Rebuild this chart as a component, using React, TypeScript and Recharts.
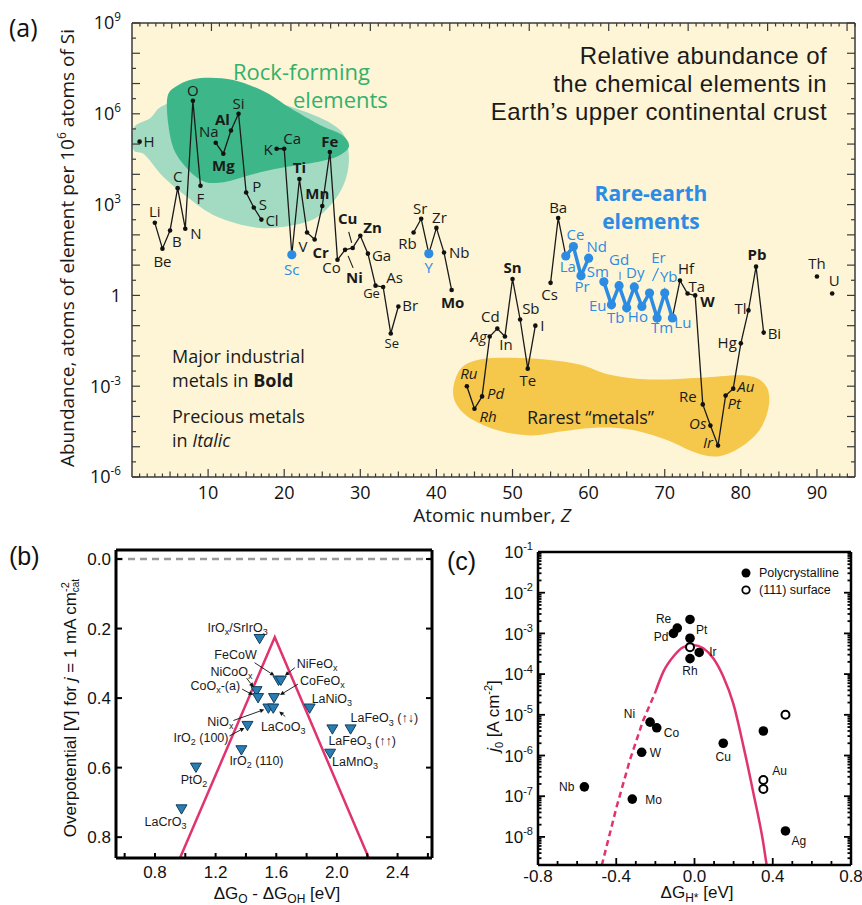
import React from "react";
import {
  ComposedChart,
  Line,
  Scatter,
  XAxis,
  YAxis,
  ReferenceArea,
  ReferenceLine,
} from "recharts";

// ---------- (a) abundance of elements, atoms per 10^6 atoms of Si ----------
const ELEMENT_SYMBOLS = [
  "H", "Li", "Be", "B", "C", "N", "O", "F", "Na", "Mg", "Al", "Si", "P", "S", "Cl",
  "K", "Ca", "Sc", "Ti", "V", "Cr", "Mn", "Fe", "Co", "Ni", "Cu", "Zn", "Ga", "Ge", "As", "Se", "Br",
  "Rb", "Sr", "Y", "Zr", "Nb", "Mo", "Ru", "Rh", "Pd", "Ag", "Cd", "In", "Sn", "Sb", "Te", "I",
  "Cs", "Ba", "La", "Ce", "Pr", "Nd", "Sm", "Eu", "Gd", "Tb", "Dy", "Ho", "Er", "Tm", "Yb", "Lu",
  "Hf", "Ta", "W", "Re", "Os", "Ir", "Pt", "Au", "Hg", "Tl", "Pb", "Bi", "Th", "U",
];
const ATOMIC_NUMBERS = [
  1, 3, 4, 5, 6, 7, 8, 9, 11, 12, 13, 14, 15, 16, 17,
  19, 20, 21, 22, 23, 24, 25, 26, 27, 28, 29, 30, 31, 32, 33, 34, 35,
  37, 38, 39, 40, 41, 42, 44, 45, 46, 47, 48, 49, 50, 51, 52, 53,
  55, 56, 57, 58, 59, 60, 62, 63, 64, 65, 66, 67, 68, 69, 70, 71,
  72, 73, 74, 75, 76, 77, 78, 79, 80, 81, 82, 83, 90, 92,
];
const ABUNDANCE = [
  1.2e5, 250, 35, 140, 3500, 160, 2.7e6, 4200, 1.1e5, 4.8e4, 2.8e5, 1e6, 2500, 800, 320,
  7e4, 7e4, 22, 7000, 120, 70, 900, 5.5e4, 15, 32, 37, 93, 24, 2.1, 1.9, 0.055, 0.43,
  120, 340, 24, 170, 26, 1.5, 1e-3, 1.8e-4, 4.6e-4, 0.044, 0.08, 0.044, 3.5, 0.16, 3.8e-3, 0.1,
  2.6, 360, 20, 41, 4.5, 17, 2.8, 0.49, 2.1, 0.39, 1.9, 0.43, 1.2, 0.18, 1.2, 0.18,
  3.1, 1.15, 1.0, 2.5e-4, 5e-5, 1.1e-5, 4.9e-4, 8.3e-4, 0.026, 0.32, 8.9, 0.059, 4.2, 1.15,
];
const RARE_EARTH_Z = [57, 71];

// region outlines, (Z, log10 abundance)
const LIGHT_GREEN_OUTLINE: [number, number][] = [
  [0.2, 5.53], [2.4, 5.86], [4.7, 6.33], [12.9, 6.72], [22.1, 6.13], [27.3, 5.47], [28.5, 4.58],
  [27.7, 3.59], [25.1, 2.73], [22.1, 2.37], [16.8, 2.23], [11.2, 2.6], [7.2, 3.26], [4.1, 3.92],
  [1.7, 4.64], [0.2, 4.81],
];
const DARK_GREEN_OUTLINE: [number, number][] = [
  [4.6, 6.46], [6.1, 6.95], [9.0, 7.18], [13.3, 7.12], [17.5, 6.72], [20.8, 6.19], [24.7, 5.63],
  [27.6, 5.3], [28.5, 4.91], [26.9, 4.58], [23.8, 4.38], [19.5, 4.21], [15.5, 3.98], [12.2, 3.75],
  [9.6, 3.75], [7.4, 4.15], [5.3, 4.97],
];
const YELLOW_OUTLINE: [number, number][] = [
  [42.2, -3.28], [43.1, -2.45], [45.7, -2.12], [49.7, -2.06], [54.3, -2.12], [58.9, -2.29],
  [62.8, -2.62], [68.1, -2.78], [74.7, -2.72], [80.6, -2.65], [83.2, -2.95], [83.7, -3.61],
  [82.5, -4.43], [79.9, -5.03], [77.0, -5.32], [74.0, -5.19], [70.1, -4.76], [65.4, -4.43],
  [60.9, -4.37], [56.3, -4.5], [52.3, -4.63], [47.7, -4.43], [43.8, -3.94],
];

// ---------- (b) OER volcano ----------
const OER_NAMES = [
  "IrO_x/SrIrO_3", "FeCoW", "NiFeO_x", "NiCoO_x", "CoO_x-(a)", "CoFeO_x", "NiO_x", "LaCoO_3",
  "IrO_2 (100)", "IrO_2 (110)", "PtO_2", "LaCrO_3", "LaNiO_3", "LaFeO_3 (↑↓)", "LaFeO_3 (↑↑)", "LaMnO_3",
];
const OER_DG = [1.49, 1.615, 1.63, 1.47, 1.48, 1.585, 1.548, 1.58, 1.41, 1.37, 1.07, 0.975, 1.82, 2.09, 1.97, 1.955];
const OER_ETA = [0.23, 0.35, 0.35, 0.38, 0.4, 0.4, 0.43, 0.43, 0.48, 0.55, 0.6, 0.72, 0.43, 0.49, 0.49, 0.56];
const VOLCANO_DG = [0.965, 1.59, 2.21];
const VOLCANO_ETA = [0.86, 0.225, 0.86];

// ---------- (c) HER volcano ----------
const HER_POLY_LABELS = ["Re", "Pd", "Pt", "", "Rh", "Ir", "Ni", "Co", "W", "Mo", "Nb", "Cu", "", "Ag"];
const HER_POLY_DG = [-0.088, -0.108, -0.023, -0.023, -0.023, 0.024, -0.227, -0.193, -0.27, -0.318, -0.563, 0.147, 0.352, 0.465];
const HER_POLY_J0 = [1.35e-3, 1.0e-3, 2.2e-3, 7.6e-4, 2.4e-4, 3.4e-4, 6.6e-6, 4.8e-6, 1.2e-6, 8.5e-8, 1.7e-7, 2.0e-6, 4.0e-6, 1.4e-8];
const HER_111_LABELS = ["", "Au", "", ""];
const HER_111_DG = [-0.023, 0.352, 0.352, 0.465];
const HER_111_J0 = [4.6e-4, 2.5e-7, 1.5e-7, 1.0e-5];
const HER_DASHED_DG = [-0.474, -0.398, -0.33, -0.262, -0.202];
const HER_DASHED_J0 = [2.0e-9, 5.5e-8, 7.8e-7, 7.4e-6, 3.4e-5];
const HER_SOLID_DG = [-0.202, -0.159, -0.108, -0.057, -0.006, 0.045, 0.096, 0.147, 0.198, 0.25, 0.301, 0.352, 0.369];
const HER_SOLID_J0 = [3.4e-5, 1.15e-4, 2.7e-4, 4.6e-4, 5.2e-4, 4.3e-4, 2.45e-4, 8.7e-5, 1.9e-5, 1.7e-6, 1.2e-7, 6.9e-9, 2.0e-9];

// ---------- tick values ----------
const A_X_TICKS = Array.from({ length: 94 }, (_, i) => i + 1);
const A_Y_TICKS = Array.from({ length: 31 }, (_, i) => Math.pow(10, -6 + i / 2));
const B_X_TICKS = Array.from({ length: 11 }, (_, i) => Math.round((0.6 + i * 0.2) * 10) / 10);
const B_Y_TICKS = [0, 0.2, 0.4, 0.6, 0.8];
const C_X_TICKS = Array.from({ length: 17 }, (_, i) => Math.round((-0.8 + i * 0.1) * 10) / 10);
const C_Y_MIN = Math.pow(10, -8.69);
const C_Y_TICKS: number[] = [];
for (let e = -9; e <= -2; e++) {
  for (let m = 1; m <= 9; m++) {
    const v = m * Math.pow(10, e);
    if (v >= C_Y_MIN && v <= 0.1) C_Y_TICKS.push(v);
  }
}
C_Y_TICKS.push(0.1);

// ---------- styles ----------
const CREAM = "#FDF5D6";
const LIGHT_GREEN = "#A3DBC2";
const DARK_GREEN = "#3DB789";
const YELLOW = "#F5C74B";
const GREEN_TEXT = "#34B06A";
const BLUE = "#2C8BE3";
const PINK = "#E0346F";
const A_FONT = '"Open Sans", "Liberation Sans", sans-serif';
const BC_FONT = '"Liberation Sans", Arial, sans-serif';

const BOLD = new Set(["Mg", "Al", "Ti", "Cr", "Mn", "Fe", "Ni", "Cu", "Zn", "Sn", "Mo", "W", "Pb"]);
const ITALIC = new Set(["Ru", "Rh", "Pd", "Ag", "Os", "Ir", "Pt", "Au"]);
const SMALL = new Set(["Ge", "Se"]);

type Anchor = "start" | "middle" | "end";
const A_LABEL: Record<string, [Anchor, number, number]> = {
  H: ["start", 4, 5], Li: ["middle", 0, -6], Be: ["middle", 0, 18], B: ["start", 2, 17],
  C: ["middle", 0, -6], N: ["start", 5, 10], O: ["middle", 0, -5], F: ["middle", 0, 18],
  Na: ["middle", -7, -6], Mg: ["middle", 0, 17], Al: ["end", -1, -6], Si: ["middle", 0, -5],
  P: ["start", 6, -1], S: ["start", 5, 2], Cl: ["start", 4, 6], K: ["end", -4, 6],
  Ca: ["start", -1, -5], Sc: ["middle", 0, 20], Ti: ["middle", 0, -6], V: ["middle", -4, 20],
  Cr: ["middle", 6, 18], Mn: ["middle", -5, -7], Fe: ["middle", 0, -5], Co: ["middle", -6, 13],
  Ni: ["start", 1, 33], Cu: ["middle", -5, -24], Zn: ["start", 3, -3], Ga: ["start", 4, 7],
  Ge: ["middle", -4, 12], As: ["start", 3, -4], Se: ["middle", 1, 14], Br: ["start", 4, 5],
  Rb: ["middle", -6, 17], Sr: ["middle", -1, -5], Y: ["middle", 0, 19], Zr: ["middle", 3, -5],
  Nb: ["start", 5, 5], Mo: ["middle", 1, 18], Ru: ["middle", 2, -7], Rh: ["start", 5, 13],
  Pd: ["start", 5, 3], Ag: ["end", -3, 6], Cd: ["middle", -7, -7], In: ["middle", 1, 14],
  Sn: ["middle", 0, -6], Sb: ["start", 2, -5], Te: ["middle", 0, 17], I: ["start", 5, 5],
  Cs: ["middle", -1, 17], Ba: ["middle", 0, -5], La: ["middle", 2, 16], Ce: ["middle", 2, -7],
  Pr: ["middle", 1, 16], Nd: ["middle", 8, -6], Sm: ["middle", -6, -5], Eu: ["end", -5, 6],
  Gd: ["middle", 0, -21], Tb: ["middle", -11, 15], Dy: ["middle", 1, -9], Ho: ["middle", -4, 16],
  Er: ["middle", 9, -30], Tm: ["middle", 5, 15], Yb: ["middle", 4, -11], Lu: ["start", 2, 10],
  Hf: ["middle", 6, -7], Ta: ["start", 1, -2], W: ["start", 5, 12], Re: ["end", -6, -2],
  Os: ["end", -4, 3], Ir: ["end", -5, 3], Pt: ["start", 2, 13], Au: ["start", 4, 3],
  Hg: ["end", -4, 5], Tl: ["end", -2, 4], Pb: ["middle", 1, -7], Bi: ["start", 4, 6],
  Th: ["middle", 0, -8], U: ["middle", 2, -8],
};
const A_LEADERS: Record<string, [number, number, number, number]> = {
  Cu: [-4, -16, -1, -5],
  Ni: [3, 6, 8, 18],
  Gd: [1, -14, 1, -6],
  Er: [9, -25, 3, -12],
};

const B_LABEL: Record<string, [Anchor, number, number]> = {
  "IrO_x/SrIrO_3": ["middle", -22, -7], FeCoW: ["middle", -43, -22], NiFeO_x: ["start", 16, -13],
  NiCoO_x: ["end", -4, -15], "CoO_x-(a)": ["end", -18, -8], CoFeO_x: ["start", 26, -13],
  NiO_x: ["end", -35, 17], LaCoO_3: ["middle", 10, 22], "IrO_2 (100)": ["end", -19, 16],
  "IrO_2 (110)": ["start", -12, 15], PtO_2: ["middle", -2, 16], LaCrO_3: ["middle", -16, 17],
  LaNiO_3: ["start", 2, -6], "LaFeO_3 (↑↓)": ["start", 0, -7], "LaFeO_3 (↑↑)": ["start", -4, 16],
  LaMnO_3: ["start", 2, 12],
};
const B_ARROWS: Record<string, [number, number, number, number]> = {
  FeCoW: [-24, -18, -4, -5], NiFeO_x: [14, -13, 4, -5], NiCoO_x: [-10, -13, -3, -4],
  "CoO_x-(a)": [-16, -9, -5, -3], CoFeO_x: [24, -14, 6, -3], NiO_x: [-35, 12, -4, 1],
  LaCoO_3: [12, 8, 6, 3], "IrO_2 (100)": [-18, 10, -3, 2],
};
const C_LABEL: Record<string, [Anchor, number, number]> = {
  Re: ["end", -6, -5], Pd: ["end", -5, 8], Pt: ["start", 6, 15], Rh: ["middle", 0, 16],
  Ir: ["start", 10, 4], Ni: ["end", -15, -4], Co: ["start", 7, 9], W: ["start", 8, 5],
  Mo: ["start", 13, 5], Nb: ["end", -10, 4], Cu: ["middle", 0, 18], Ag: ["start", 6, 14],
  Au: ["start", 9, -5],
};

// ---------- data tables ----------
const abundanceRows = Array.from({ length: 92 }, (_, i) => {
  const z = i + 1;
  const k = ATOMIC_NUMBERS.indexOf(z);
  const v = k >= 0 ? ABUNDANCE[k] : null;
  return { z, abundance: v, ree: z >= RARE_EARTH_Z[0] && z <= RARE_EARTH_Z[1] ? v : null };
});
const elementPoints = ATOMIC_NUMBERS.map((z, k) => ({ z, abundance: ABUNDANCE[k], symbol: ELEMENT_SYMBOLS[k] }));
const blueSet = new Set(
  ["Sc", "Y"].concat(ELEMENT_SYMBOLS.filter((_, k) => ATOMIC_NUMBERS[k] >= RARE_EARTH_Z[0] && ATOMIC_NUMBERS[k] <= RARE_EARTH_Z[1]))
);
const oerPoints = OER_NAMES.map((name, k) => ({ name, dg: OER_DG[k], eta: OER_ETA[k] }));
const volcanoB = VOLCANO_DG.map((dg, k) => ({ dg, eta: VOLCANO_ETA[k] }));
const herPoly = HER_POLY_DG.map((dg, k) => ({ dg, j0: HER_POLY_J0[k], label: HER_POLY_LABELS[k] }));
const her111 = HER_111_DG.map((dg, k) => ({ dg, j0: HER_111_J0[k], label: HER_111_LABELS[k] }));
const herDashed = HER_DASHED_DG.map((dg, k) => ({ dg, j0: HER_DASHED_J0[k] }));
const herSolid = HER_SOLID_DG.map((dg, k) => ({ dg, j0: HER_SOLID_J0[k] }));

// ---------- helpers ----------
type Side = "bottom" | "top" | "left" | "right";
function axisTick(
  side: Side,
  len: (v: number) => number,
  label?: (v: number) => React.ReactNode,
  opt: { gap?: number; fs?: number; stroke?: string; sw?: number } = {}
) {
  const { gap = 20, fs = 16, stroke = "#000", sw = 1.2 } = opt;
  return (props: any) => {
    const { x, y, payload } = props;
    const v = payload.value as number;
    const s = len(v);
    const lab = label ? label(v) : null;
    let ln: React.ReactNode = null;
    let tx: React.ReactNode = null;
    if (side === "bottom") {
      ln = <line x1={x} x2={x} y1={y} y2={y - s} stroke={stroke} strokeWidth={sw} />;
      if (lab != null) tx = <text x={x} y={y + gap} textAnchor="middle" fontSize={fs} fill="#111">{lab}</text>;
    } else if (side === "top") {
      ln = <line x1={x} x2={x} y1={y} y2={y + s} stroke={stroke} strokeWidth={sw} />;
    } else if (side === "left") {
      ln = <line x1={x} x2={x + s} y1={y} y2={y} stroke={stroke} strokeWidth={sw} />;
      if (lab != null) tx = <text x={x - gap} y={y + fs * 0.36} textAnchor="end" fontSize={fs} fill="#111">{lab}</text>;
    } else {
      ln = <line x1={x} x2={x - s} y1={y} y2={y} stroke={stroke} strokeWidth={sw} />;
    }
    return <g>{ln}{tx}</g>;
  };
}

const pow10 = (e: number, fs: number) =>
  e === 0 ? "1" : (
    <>
      10<tspan dy={-fs * 0.45} fontSize={fs * 0.65}>{e}</tspan>
    </>
  );

const isDecade = (v: number) => Math.abs(Math.log10(v) - Math.round(Math.log10(v))) < 1e-6;

function closedSpline(pts: [number, number][]) {
  const n = pts.length;
  let d = `M${pts[0][0].toFixed(1)},${pts[0][1].toFixed(1)}`;
  for (let i = 0; i < n; i++) {
    const p0 = pts[(i - 1 + n) % n], p1 = pts[i], p2 = pts[(i + 1) % n], p3 = pts[(i + 2) % n];
    const c1x = p1[0] + (p2[0] - p0[0]) / 6, c1y = p1[1] + (p2[1] - p0[1]) / 6;
    const c2x = p2[0] - (p3[0] - p1[0]) / 6, c2y = p2[1] - (p3[1] - p1[1]) / 6;
    d += ` C${c1x.toFixed(1)},${c1y.toFixed(1)} ${c2x.toFixed(1)},${c2y.toFixed(1)} ${p2[0].toFixed(1)},${p2[1].toFixed(1)}`;
  }
  return d + "Z";
}

function blobArea(outline: [number, number][], fill: string, key: string) {
  const zs = outline.map((p) => p[0]);
  const ls = outline.map((p) => p[1]);
  const z0 = Math.min(...zs), z1 = Math.max(...zs), l0 = Math.min(...ls), l1 = Math.max(...ls);
  return (
    <ReferenceArea
      key={key}
      xAxisId="b"
      yAxisId="l"
      x1={z0}
      x2={z1}
      y1={Math.pow(10, l0)}
      y2={Math.pow(10, l1)}
      ifOverflow="visible"
      shape={(p: any) => {
        const pts = outline.map(
          ([z, l]) => [p.x + ((z - z0) / (z1 - z0)) * p.width, p.y + ((l1 - l) / (l1 - l0)) * p.height] as [number, number]
        );
        return <path d={closedSpline(pts)} fill={fill} stroke="none" />;
      }}
    />
  );
}

function arrow(x1: number, y1: number, x2: number, y2: number) {
  const a = Math.atan2(y2 - y1, x2 - x1);
  const h = 4.5, w = 2.2;
  const bx = x2 - h * Math.cos(a), by = y2 - h * Math.sin(a);
  const px = -Math.sin(a) * w, py = Math.cos(a) * w;
  return (
    <g>
      <line x1={x1} y1={y1} x2={bx} y2={by} stroke="#111" strokeWidth={0.9} />
      <path d={`M${x2},${y2}L${bx + px},${by + py}L${bx - px},${by - py}Z`} fill="#111" />
    </g>
  );
}

function chemText(s: string, fs: number) {
  const out: React.ReactNode[] = [];
  let buf = "";
  let k = 0;
  let shifted = false;
  const flush = () => {
    if (buf) {
      out.push(<tspan key={k++} dy={shifted ? -fs * 0.25 : undefined}>{buf}</tspan>);
      buf = "";
      shifted = false;
    }
  };
  for (let i = 0; i < s.length; i++) {
    if (s[i] === "_" && i + 1 < s.length) {
      flush();
      out.push(<tspan key={k++} dy={fs * 0.25} fontSize={fs * 0.72}>{s[i + 1]}</tspan>);
      shifted = true;
      i++;
    } else buf += s[i];
  }
  flush();
  return out;
}

// ---------- marks ----------
const ElementMark = (props: any) => {
  const { cx, cy, payload } = props;
  if (cx == null || cy == null || !payload) return <g />;
  const sym = payload.symbol as string;
  const blue = blueSet.has(sym);
  const [anchor, dx, dy] = A_LABEL[sym] ?? ["middle", 0, -6];
  const lead = A_LEADERS[sym];
  const col = blue ? BLUE : "#1a1a1a";
  return (
    <g>
      {lead && (
        <line x1={cx + lead[0]} y1={cy + lead[1]} x2={cx + lead[2]} y2={cy + lead[3]} stroke={col} strokeWidth={1.1} />
      )}
      <circle cx={cx} cy={cy} r={blue ? 4.6 : 2.3} fill={blue ? BLUE : "#111"} />
      <text
        x={cx + dx}
        y={cy + dy}
        textAnchor={anchor}
        fontSize={SMALL.has(sym) ? 13 : 15}
        fontWeight={BOLD.has(sym) ? 700 : 400}
        fontStyle={ITALIC.has(sym) ? "italic" : "normal"}
        fill={col}
      >
        {sym}
      </text>
    </g>
  );
};

const OerMark = (props: any) => {
  const { cx, cy, payload } = props;
  if (cx == null || cy == null || !payload) return <g />;
  const name = payload.name as string;
  const [anchor, dx, dy] = B_LABEL[name] ?? ["start", 6, 4];
  const ar = B_ARROWS[name];
  return (
    <g>
      <path
        d={`M${cx - 5.5},${cy - 4.5}L${cx + 5.5},${cy - 4.5}L${cx},${cy + 4.8}Z`}
        fill="#2A7DB3"
        stroke="#123E5C"
        strokeWidth={1}
      />
      {ar && arrow(cx + ar[0], cy + ar[1], cx + ar[2], cy + ar[3])}
      <text x={cx + dx} y={cy + dy} textAnchor={anchor} fontSize={12.5} fill="#1a1a1a">
        {chemText(name, 12.5)}
      </text>
    </g>
  );
};

const herMark = (open: boolean) => (props: any) => {
  const { cx, cy, payload } = props;
  if (cx == null || cy == null || !payload) return <g />;
  const lab = payload.label as string;
  const pos = lab ? C_LABEL[lab] : null;
  return (
    <g>
      {open ? (
        <circle cx={cx} cy={cy} r={4} fill="#fff" stroke="#000" strokeWidth={2} />
      ) : (
        <circle cx={cx} cy={cy} r={4.8} fill="#000" />
      )}
      {pos && (
        <text x={cx + pos[1]} y={cy + pos[2]} textAnchor={pos[0]} fontSize={12} fill="#111">
          {lab}
        </text>
      )}
    </g>
  );
};

// ---------- panels ----------
function PanelA() {
  const frame = { stroke: "#3a3a3a", strokeWidth: 1.5 };
  const xLen = (v: number) => (v % 10 === 0 ? 8 : v % 5 === 0 ? 5.5 : 3.5);
  const yLen = (v: number) => (isDecade(v) ? 8 : 4);
  const yLab = (v: number) => {
    const e = Math.round(Math.log10(v));
    return isDecade(v) && e % 3 === 0 ? pow10(e, 18) : null;
  };
  return (
    <div style={{ position: "absolute", left: 0, top: 0, width: 862, height: 530, fontFamily: A_FONT }}>
      <ComposedChart width={862} height={530} data={abundanceRows} margin={{ top: 13, right: 0, bottom: 23, left: 0 }}>
        <XAxis
          xAxisId="b"
          dataKey="z"
          type="number"
          domain={[0, 95]}
          ticks={A_X_TICKS}
          interval={0}
          allowDataOverflow
          height={30}
          tickSize={0}
          tickMargin={0}
          tickLine={false}
          axisLine={frame}
          tick={axisTick("bottom", xLen, (v) => (v % 10 === 0 ? String(v) : null), { gap: 22, fs: 18, stroke: "#3a3a3a" })}
        />
        <XAxis
          xAxisId="t"
          orientation="top"
          type="number"
          domain={[0, 95]}
          ticks={A_X_TICKS}
          interval={0}
          allowDataOverflow
          height={10}
          tickSize={0}
          tickMargin={0}
          tickLine={false}
          axisLine={frame}
          tick={axisTick("top", xLen, undefined, { stroke: "#3a3a3a" })}
        />
        <YAxis
          yAxisId="l"
          scale="log"
          domain={[1e-6, 1e9]}
          ticks={A_Y_TICKS}
          interval={0}
          allowDataOverflow
          width={132}
          tickSize={0}
          tickMargin={0}
          tickLine={false}
          axisLine={frame}
          tick={axisTick("left", yLen, yLab, { gap: 11, fs: 18, stroke: "#3a3a3a" })}
        />
        <YAxis
          yAxisId="r"
          orientation="right"
          scale="log"
          domain={[1e-6, 1e9]}
          ticks={A_Y_TICKS}
          interval={0}
          allowDataOverflow
          width={7}
          tickSize={0}
          tickMargin={0}
          tickLine={false}
          axisLine={frame}
          tick={axisTick("right", yLen, undefined, { stroke: "#3a3a3a" })}
        />
        <ReferenceArea xAxisId="b" yAxisId="l" x1={0} x2={95} y1={1e-6} y2={1e9} fill={CREAM} fillOpacity={1} stroke="none" />
        {blobArea(LIGHT_GREEN_OUTLINE, LIGHT_GREEN, "lg")}
        {blobArea(DARK_GREEN_OUTLINE, DARK_GREEN, "dg")}
        {blobArea(YELLOW_OUTLINE, YELLOW, "yl")}
        <Line
          xAxisId="b"
          yAxisId="l"
          dataKey="abundance"
          type="linear"
          stroke="#1a1a1a"
          strokeWidth={1.3}
          dot={false}
          connectNulls={false}
          isAnimationActive={false}
        />
        <Line
          xAxisId="b"
          yAxisId="l"
          dataKey="ree"
          type="linear"
          stroke={BLUE}
          strokeWidth={3.5}
          dot={false}
          connectNulls={false}
          isAnimationActive={false}
        />
        <Scatter xAxisId="b" yAxisId="l" data={elementPoints} dataKey="abundance" shape={ElementMark} isAnimationActive={false} />
      </ComposedChart>
      <svg width={862} height={530} style={{ position: "absolute", left: 0, top: 0, pointerEvents: "none" }}>
        <text x={9} y={37} fontSize={25} fill="#111">(a)</text>
        <text x={233} y={80} fontSize={22} fill={GREEN_TEXT}>Rock-forming</text>
        <text x={293} y={108} fontSize={22} fill={GREEN_TEXT}>elements</text>
        <g fontSize={24} fill="#1a1a1a" textAnchor="end" fontFamily={BC_FONT} letterSpacing={0.4}>
          <text x={827} y={64}>Relative abundance of</text>
          <text x={827} y={92}>the chemical elements in</text>
          <text x={827} y={120}>Earth’s upper continental crust</text>
        </g>
        <g fontSize={21} fontWeight={700} fill={BLUE} textAnchor="middle">
          <text x={651} y={201}>Rare-earth</text>
          <text x={651} y={229}>elements</text>
        </g>
        <g fontSize={18} fill="#1a1a1a">
          <text x={172} y={363}>Major industrial</text>
          <text x={172} y={387}>
            metals in <tspan fontWeight={700}>Bold</tspan>
          </text>
          <text x={172} y={423}>Precious metals</text>
          <text x={172} y={447}>
            in <tspan fontStyle="italic">Italic</tspan>
          </text>
          <text x={527} y={424}>Rarest “metals”</text>
        </g>
        <text x={492} y={522} fontSize={19} textAnchor="middle" fill="#1a1a1a">
          Atomic number, <tspan fontStyle="italic">Z</tspan>
        </text>
        <text transform="translate(74,248) rotate(-90)" fontSize={19} textAnchor="middle" fill="#1a1a1a">
          Abundance, atoms of element per 10<tspan dy={-8} fontSize={12}>6</tspan>
          <tspan dy={8}> atoms of Si</tspan>
        </text>
      </svg>
    </div>
  );
}

function PanelB() {
  const frame = { stroke: "#000", strokeWidth: 3 };
  const fmt = (v: number) => v.toFixed(1);
  return (
    <div style={{ position: "absolute", left: 0, top: 520, width: 440, height: 385, fontFamily: BC_FONT }}>
      <ComposedChart width={440} height={385} margin={{ top: 20, right: 0, bottom: 17, left: 0 }}>
        <XAxis
          xAxisId="b"
          dataKey="dg"
          type="number"
          domain={[0.543, 2.627]}
          ticks={B_X_TICKS}
          interval={0}
          allowDataOverflow
          height={30}
          tickSize={0}
          tickMargin={0}
          tickLine={false}
          axisLine={frame}
          tick={axisTick("bottom", () => 5, (v) => (Math.round(v * 10) % 4 === 0 ? fmt(v) : null), { gap: 20, fs: 17, sw: 2 })}
        />
        <XAxis
          xAxisId="t"
          orientation="top"
          type="number"
          domain={[0.543, 2.627]}
          ticks={B_X_TICKS}
          interval={0}
          allowDataOverflow
          height={10}
          tickSize={0}
          tickMargin={0}
          tickLine={false}
          axisLine={frame}
          tick={axisTick("top", () => 5, undefined, { sw: 2 })}
        />
        <YAxis
          yAxisId="l"
          type="number"
          domain={[-0.026, 0.86]}
          reversed
          ticks={B_Y_TICKS}
          interval={0}
          allowDataOverflow
          width={116}
          tickSize={0}
          tickMargin={0}
          tickLine={false}
          axisLine={frame}
          tick={axisTick("left", () => 6, fmt, { gap: 5, fs: 17, sw: 2 })}
        />
        <YAxis
          yAxisId="r"
          orientation="right"
          type="number"
          domain={[-0.026, 0.86]}
          reversed
          ticks={B_Y_TICKS}
          interval={0}
          allowDataOverflow
          width={8}
          tickSize={0}
          tickMargin={0}
          tickLine={false}
          axisLine={frame}
          tick={axisTick("right", () => 6, undefined, { sw: 2 })}
        />
        <ReferenceLine xAxisId="b" yAxisId="l" y={0} stroke="#9a9a9a" strokeWidth={2.5} strokeDasharray="7 5" />
        <Line
          xAxisId="b"
          yAxisId="l"
          data={volcanoB}
          dataKey="eta"
          type="linear"
          stroke={PINK}
          strokeWidth={2.5}
          dot={false}
          isAnimationActive={false}
        />
        <Scatter xAxisId="b" yAxisId="l" data={oerPoints} dataKey="eta" shape={OerMark} isAnimationActive={false} />
      </ComposedChart>
      <svg width={440} height={385} style={{ position: "absolute", left: 0, top: 0, pointerEvents: "none" }}>
        <text x={9} y={45} fontSize={25} fill="#111">(b)</text>
        <text transform="translate(76,188) rotate(-90)" fontSize={17} textAnchor="middle" fill="#111">
          Overpotential [V] for <tspan fontStyle="italic">j</tspan> = 1 mA cm
          <tspan dy={-7} fontSize={11}>-2</tspan>
          <tspan dx={-10} dy={10} fontSize={10}>cat</tspan>
        </text>
        <text x={277} y={379} fontSize={17} textAnchor="middle" fill="#111">
          ΔG<tspan dy={4} fontSize={12}>O</tspan>
          <tspan dy={-4}> - ΔG</tspan>
          <tspan dy={4} fontSize={12}>OH</tspan>
          <tspan dy={-4}> [eV]</tspan>
        </text>
      </svg>
    </div>
  );
}

function PanelC() {
  const frame = { stroke: "#000", strokeWidth: 2.5 };
  const xLab = (v: number) => (Math.round(v * 10) % 4 === 0 ? (v === 0 ? "0.0" : v.toFixed(1)) : null);
  const xLen = (v: number) => (Math.round(v * 10) % 4 === 0 ? 7 : 4);
  const yLen = (v: number) => (isDecade(v) ? 7 : 3.5);
  const yLab = (v: number) => {
    const e = Math.round(Math.log10(v));
    return isDecade(v) && e >= -8 ? pow10(e, 17) : null;
  };
  return (
    <div style={{ position: "absolute", left: 440, top: 520, width: 422, height: 385, fontFamily: BC_FONT }}>
      <ComposedChart width={422} height={385} margin={{ top: 22, right: 0, bottom: 10, left: 0 }}>
        <XAxis
          xAxisId="b"
          dataKey="dg"
          type="number"
          domain={[-0.8, 0.8]}
          ticks={C_X_TICKS}
          interval={0}
          allowDataOverflow
          height={30}
          tickSize={0}
          tickMargin={0}
          tickLine={false}
          axisLine={frame}
          tick={axisTick("bottom", xLen, xLab, { gap: 17, fs: 17, sw: 1.8 })}
        />
        <XAxis
          xAxisId="t"
          orientation="top"
          type="number"
          domain={[-0.8, 0.8]}
          ticks={C_X_TICKS}
          interval={0}
          allowDataOverflow
          height={10}
          tickSize={0}
          tickMargin={0}
          tickLine={false}
          axisLine={frame}
          tick={axisTick("top", xLen, undefined, { sw: 1.8 })}
        />
        <YAxis
          yAxisId="l"
          scale="log"
          domain={[C_Y_MIN, 0.1]}
          ticks={C_Y_TICKS}
          interval={0}
          allowDataOverflow
          width={98}
          tickSize={0}
          tickMargin={0}
          tickLine={false}
          axisLine={frame}
          tick={axisTick("left", yLen, yLab, { gap: 5, fs: 17, sw: 1.8 })}
        />
        <YAxis
          yAxisId="r"
          orientation="right"
          scale="log"
          domain={[C_Y_MIN, 0.1]}
          ticks={C_Y_TICKS}
          interval={0}
          allowDataOverflow
          width={11}
          tickSize={0}
          tickMargin={0}
          tickLine={false}
          axisLine={frame}
          tick={axisTick("right", yLen, undefined, { sw: 1.8 })}
        />
        <Line
          xAxisId="b"
          yAxisId="l"
          data={herDashed}
          dataKey="j0"
          type="linear"
          stroke={PINK}
          strokeWidth={2.5}
          strokeDasharray="6 4"
          dot={false}
          isAnimationActive={false}
        />
        <Line
          xAxisId="b"
          yAxisId="l"
          data={herSolid}
          dataKey="j0"
          type="monotone"
          stroke={PINK}
          strokeWidth={2.5}
          dot={false}
          isAnimationActive={false}
        />
        <Scatter xAxisId="b" yAxisId="l" name="Polycrystalline" data={herPoly} dataKey="j0" shape={herMark(false)} isAnimationActive={false} />
        <Scatter xAxisId="b" yAxisId="l" name="(111) surface" data={her111} dataKey="j0" shape={herMark(true)} isAnimationActive={false} />
      </ComposedChart>
      <svg width={422} height={385} style={{ position: "absolute", left: 0, top: 0, pointerEvents: "none" }}>
        <text x={7} y={50} fontSize={25} fill="#111">(c)</text>
        <circle cx={306} cy={53} r={4.5} fill="#000" />
        <text x={319} y={57} fontSize={12.5} fill="#111">Polycrystalline</text>
        <circle cx={306} cy={70} r={3.7} fill="#fff" stroke="#000" strokeWidth={1.8} />
        <text x={319} y={74} fontSize={12.5} fill="#111">(111) surface</text>
        <text transform="translate(59,196) rotate(-90)" fontSize={17} textAnchor="middle" fill="#111">
          <tspan fontStyle="italic">j</tspan>
          <tspan dy={4} fontSize={11}>0</tspan>
          <tspan dy={-4}> [A cm</tspan>
          <tspan dy={-7} fontSize={11}>-2</tspan>
          <tspan dy={7}>]</tspan>
        </text>
        <text x={257} y={378} fontSize={17} textAnchor="middle" fill="#111">
          ΔG<tspan dy={4} fontSize={12}>H*</tspan>
          <tspan dy={-4}> [eV]</tspan>
        </text>
      </svg>
    </div>
  );
}

export default function App() {
  return (
    <div style={{ position: "absolute", left: 0, top: 0, width: 862, height: 905, background: "#fff", overflow: "hidden" }}>
      <PanelA />
      <PanelB />
      <PanelC />
    </div>
  );
}
